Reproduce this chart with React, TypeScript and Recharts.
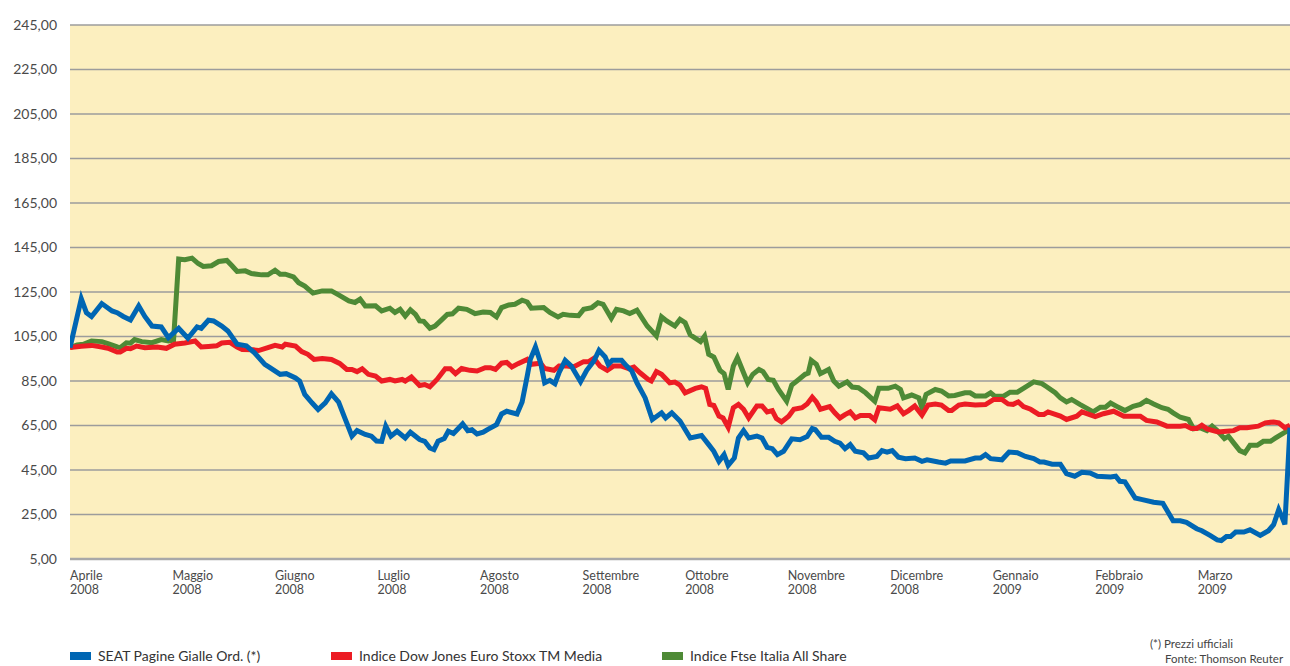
import React from "react";
import { LineChart, Line, XAxis, YAxis, CartesianGrid } from "recharts";

// x = months since 1 April 2008, value = index (base 100)
const MONTH_LABELS = [
  ["Aprile", "2008"],
  ["Maggio", "2008"],
  ["Giugno", "2008"],
  ["Luglio", "2008"],
  ["Agosto", "2008"],
  ["Settembre", "2008"],
  ["Ottobre", "2008"],
  ["Novembre", "2008"],
  ["Dicembre", "2008"],
  ["Gennaio", "2009"],
  ["Febbraio", "2009"],
  ["Marzo", "2009"],
];
const Y_TICKS = [5, 25, 45, 65, 85, 105, 125, 145, 165, 185, 205, 225, 245];

const SEAT: [number, number][] = [
  [0, 100], [0.11, 122], [0.16, 115.7], [0.21, 114], [0.31, 119.8], [0.41, 116.5],
  [0.46, 115.7], [0.52, 114], [0.59, 112.4], [0.67, 118.7], [0.73, 114], [0.8, 109.7],
  [0.89, 109.3], [0.96, 104.5], [1.06, 108.7], [1.15, 104.2], [1.24, 109.3], [1.28, 108.7],
  [1.35, 112.3], [1.4, 112], [1.48, 109.7], [1.54, 107.5], [1.63, 101.5], [1.72, 100.8],
  [1.8, 97.7], [1.9, 92.5], [1.95, 91], [2.05, 88], [2.11, 88.3], [2.2, 86.4], [2.24, 85],
  [2.29, 79], [2.36, 75.2], [2.42, 72.2], [2.49, 75.2], [2.55, 79.2], [2.62, 75.5],
  [2.68, 68.4], [2.75, 60.2], [2.8, 62.7], [2.88, 61], [2.94, 60.2], [2.99, 58], [3.04, 57.9],
  [3.08, 64.7], [3.13, 60.2], [3.19, 62.4], [3.27, 59.4], [3.32, 62], [3.41, 58.7],
  [3.46, 57.9], [3.51, 54.9], [3.55, 54.2], [3.59, 57.9], [3.65, 59.1], [3.69, 62.4],
  [3.74, 61.4], [3.83, 65.7], [3.88, 62.7], [3.92, 63.1], [3.97, 61.2], [4.03, 62],
  [4.08, 63.4], [4.16, 65.4], [4.21, 70.2], [4.26, 71.4], [4.36, 70.2], [4.41, 75.6],
  [4.46, 87.2], [4.49, 94.7], [4.54, 100.3], [4.59, 93.2], [4.63, 84.2], [4.68, 85.3],
  [4.73, 83.8], [4.77, 88.7], [4.83, 94.3], [4.89, 91.7], [4.98, 84.7], [5.04, 89.8],
  [5.11, 94], [5.16, 98.8], [5.22, 95.8], [5.25, 92.5], [5.29, 94.3], [5.38, 94.3],
  [5.43, 91.7], [5.48, 89.5], [5.53, 84.2], [5.61, 77.4], [5.68, 67.7], [5.77, 70.7],
  [5.81, 68.4], [5.87, 70.7], [5.95, 67], [6.05, 59.4], [6.16, 60.5], [6.23, 56.4],
  [6.28, 53.4], [6.33, 48.9], [6.38, 51.9], [6.42, 47.1], [6.48, 50.4], [6.52, 59.4],
  [6.57, 62.7], [6.62, 59.4], [6.7, 60.2], [6.75, 59.4], [6.8, 55.2], [6.85, 54.6],
  [6.9, 51.9], [6.96, 53.4], [7.04, 59], [7.12, 58.6], [7.19, 60], [7.24, 63.6], [7.27, 63.1],
  [7.33, 59.7], [7.4, 59.7], [7.46, 57.9], [7.51, 57.1], [7.56, 54.6], [7.61, 56.4],
  [7.66, 53.4], [7.74, 52.7], [7.79, 50.4], [7.87, 51.1], [7.92, 53.7], [7.97, 53],
  [8.02, 53.7], [8.08, 50.8], [8.15, 50.1], [8.24, 50.4], [8.31, 48.9], [8.36, 49.6],
  [8.47, 48.6], [8.54, 48.1], [8.59, 49.1], [8.73, 49.1], [8.83, 50.4], [8.88, 50.4],
  [8.93, 51.9], [8.98, 50.1], [9.09, 49.6], [9.16, 53.1], [9.24, 52.8], [9.32, 51.1],
  [9.4, 50.1], [9.46, 48.6], [9.5, 48.6], [9.58, 47.6], [9.66, 47.6], [9.72, 43.4],
  [9.8, 42.2], [9.87, 44], [9.95, 43.7], [10.02, 42.2], [10.15, 41.9], [10.2, 42.2],
  [10.24, 39.9], [10.29, 39.7], [10.39, 32.4], [10.46, 31.7], [10.57, 30.5], [10.66, 30],
  [10.76, 22.2], [10.83, 22.2], [10.89, 21.5], [10.99, 18.6], [11.04, 17.7], [11.12, 15.6],
  [11.19, 13.6], [11.23, 13.3], [11.28, 15.1], [11.32, 15.1], [11.37, 17.1], [11.45, 17.1],
  [11.51, 18.1], [11.61, 15.6], [11.69, 17.7], [11.74, 20.4], [11.79, 27.2], [11.82, 24.1],
  [11.85, 20.6], [11.9, 64],
];

const DJ_MEDIA: [number, number][] = [
  [0, 100], [0.11, 100.6], [0.21, 101], [0.31, 100.3], [0.37, 99.7], [0.46, 98], [0.49, 98],
  [0.55, 99.7], [0.59, 99.5], [0.65, 100.7], [0.73, 100], [0.85, 100.3], [0.94, 99.7],
  [1.02, 101.5], [1.12, 102.1], [1.22, 103], [1.28, 100.3], [1.35, 100.5], [1.43, 100.8],
  [1.48, 102.1], [1.56, 102.4], [1.63, 100.3], [1.68, 99.2], [1.79, 99], [1.84, 98.7],
  [1.93, 100], [2.0, 101], [2.07, 100.3], [2.1, 101.5], [2.2, 100.7], [2.26, 98.2], [2.32, 97],
  [2.38, 94.7], [2.46, 95.1], [2.55, 94.7], [2.63, 92.9], [2.7, 90.2], [2.75, 90.2],
  [2.8, 89.2], [2.85, 90.5], [2.91, 88], [2.98, 87.2], [3.04, 85], [3.12, 85.7], [3.17, 85],
  [3.24, 85.7], [3.27, 85], [3.33, 86.8], [3.41, 83], [3.46, 83.4], [3.51, 82.4], [3.58, 85.7],
  [3.66, 90.5], [3.71, 90.5], [3.76, 88.3], [3.82, 90.6], [3.9, 89.8], [3.97, 89.5],
  [4.05, 91], [4.1, 91], [4.15, 90.2], [4.21, 93], [4.26, 93.4], [4.31, 91.3], [4.37, 92.8],
  [4.46, 94.7], [4.5, 92.5], [4.59, 93], [4.63, 90.6], [4.72, 89.8], [4.77, 91.7],
  [4.85, 91.7], [4.91, 91.3], [5.01, 93.7], [5.06, 93.7], [5.11, 95.2], [5.17, 91.7],
  [5.24, 89.8], [5.3, 91.7], [5.38, 91.7], [5.45, 90.6], [5.5, 91.3], [5.56, 88.7],
  [5.64, 85.7], [5.67, 85], [5.72, 89.2], [5.77, 88], [5.85, 84.2], [5.9, 84.5], [5.95, 83.2],
  [6.0, 79.7], [6.1, 81.7], [6.16, 82.4], [6.2, 81.7], [6.24, 74.5], [6.28, 74], [6.33, 69.2],
  [6.37, 68.4], [6.42, 64.2], [6.47, 73], [6.52, 74.5], [6.57, 72.3], [6.62, 68.4],
  [6.7, 73.8], [6.75, 73.8], [6.8, 71.1], [6.85, 71.7], [6.89, 68.1], [6.94, 66.6],
  [7.01, 69.2], [7.06, 72.3], [7.14, 73], [7.19, 74.7], [7.24, 77.7], [7.28, 75.6],
  [7.32, 72.3], [7.41, 73.5], [7.46, 70.7], [7.51, 68.4], [7.56, 69.9], [7.61, 71.1],
  [7.66, 68.4], [7.71, 69.5], [7.8, 69.5], [7.85, 67.6], [7.89, 73], [8.0, 72.3], [8.07, 73.8],
  [8.13, 70.3], [8.18, 71.7], [8.24, 73.8], [8.31, 69.7], [8.37, 74.2], [8.44, 74.7],
  [8.5, 74.2], [8.57, 71.7], [8.6, 71.7], [8.67, 74.2], [8.73, 74.7], [8.83, 74.2],
  [8.93, 74.4], [9.01, 76.7], [9.09, 76.7], [9.15, 74.7], [9.2, 74.5], [9.25, 75.6],
  [9.3, 73.5], [9.37, 72.3], [9.45, 70], [9.5, 70], [9.54, 71.1], [9.66, 69.2], [9.72, 67.7],
  [9.82, 69.2], [9.87, 71.1], [10.0, 69], [10.08, 70.3], [10.18, 71.4], [10.28, 69.2],
  [10.44, 69.2], [10.5, 67.3], [10.6, 66.6], [10.7, 64.7], [10.83, 64.7], [10.88, 65],
  [10.94, 63.6], [10.99, 63.6], [11.04, 65.1], [11.09, 63.5], [11.15, 62.7], [11.2, 62.1],
  [11.28, 62.4], [11.35, 62.7], [11.41, 64], [11.48, 64], [11.59, 64.7], [11.66, 66.2],
  [11.74, 66.6], [11.79, 66.2], [11.85, 64], [11.9, 65.1],
];

const FTSE_ITALIA: [number, number][] = [
  [0, 100], [0.07, 101.2], [0.13, 101.5], [0.21, 103], [0.31, 102.7], [0.37, 101.8],
  [0.46, 100.3], [0.49, 100], [0.55, 102.2], [0.59, 102], [0.63, 103.6], [0.7, 102.7],
  [0.8, 102.2], [0.89, 103.6], [0.96, 103], [1.01, 103.4], [1.06, 139.8], [1.12, 139.5],
  [1.19, 140.2], [1.25, 137.8], [1.3, 136.5], [1.38, 136.8], [1.45, 138.7], [1.53, 139.2],
  [1.58, 136.8], [1.63, 134.2], [1.71, 134.5], [1.77, 133.3], [1.87, 132.7], [1.93, 132.7],
  [2.0, 134.8], [2.05, 133], [2.1, 133], [2.18, 131.8], [2.23, 129.2], [2.29, 127.7],
  [2.37, 124.5], [2.46, 125.5], [2.55, 125.5], [2.62, 123.7], [2.72, 121], [2.78, 120.3],
  [2.83, 121.8], [2.88, 118.7], [2.98, 118.8], [3.04, 116.5], [3.12, 117.7], [3.17, 115.8],
  [3.22, 117.2], [3.27, 114.2], [3.32, 117], [3.37, 114.9], [3.41, 112], [3.45, 111.8],
  [3.51, 108.7], [3.56, 109.7], [3.63, 112.7], [3.68, 114.9], [3.73, 115.2], [3.79, 117.7],
  [3.87, 117.2], [3.95, 115.3], [4.03, 116], [4.1, 115.8], [4.16, 113.8], [4.21, 118],
  [4.28, 119.2], [4.34, 119.5], [4.41, 121.3], [4.46, 120.5], [4.5, 117.7], [4.62, 118],
  [4.68, 115.8], [4.76, 113.8], [4.81, 115], [4.88, 114.5], [4.96, 114.3], [5.01, 117.2],
  [5.09, 118], [5.15, 120.2], [5.2, 119.5], [5.28, 113.2], [5.33, 117.2], [5.4, 116.5],
  [5.46, 115.3], [5.53, 116.8], [5.63, 109.7], [5.72, 105.2], [5.77, 113.8], [5.82, 112],
  [5.9, 109.7], [5.95, 112.7], [6.0, 111.2], [6.05, 105.7], [6.15, 102.7], [6.19, 105.2],
  [6.23, 97], [6.28, 95.8], [6.34, 89.8], [6.38, 88.3], [6.42, 81.2], [6.47, 91.7],
  [6.51, 95.5], [6.57, 88.7], [6.61, 84.2], [6.66, 88], [6.72, 90.2], [6.76, 89.2],
  [6.81, 85.7], [6.86, 85.3], [6.91, 81.2], [6.99, 75.9], [7.04, 83.2], [7.09, 85], [7.17, 88],
  [7.2, 88.5], [7.23, 94.3], [7.28, 92.5], [7.32, 88.3], [7.4, 90.2], [7.45, 85], [7.5, 82.7],
  [7.58, 84.6], [7.63, 82.3], [7.69, 82], [7.76, 79.7], [7.85, 75.9], [7.89, 81.7],
  [7.98, 81.7], [8.05, 82.7], [8.1, 81.2], [8.13, 77.4], [8.21, 78.7], [8.28, 77.4], [8.31, 73],
  [8.35, 79], [8.44, 81.2], [8.5, 80.5], [8.57, 78.3], [8.63, 78.5], [8.73, 79.7], [8.78, 79.7],
  [8.83, 78.3], [8.93, 78.3], [8.98, 79.7], [9.02, 78.2], [9.11, 78.3], [9.17, 80], [9.24, 80],
  [9.3, 81.7], [9.4, 84.6], [9.48, 83.8], [9.53, 82.3], [9.61, 79.7], [9.66, 77.4],
  [9.72, 75.6], [9.77, 76.7], [9.85, 74.5], [9.92, 72.7], [9.98, 71.1], [10.05, 73.2],
  [10.1, 73.2], [10.15, 75.1], [10.21, 73.6], [10.29, 71.7], [10.37, 73.6], [10.44, 74.5],
  [10.5, 76.3], [10.57, 74.7], [10.65, 73], [10.71, 72.3], [10.76, 70.7], [10.83, 68.7],
  [10.91, 67.7], [10.96, 63.5], [11.02, 64], [11.09, 62.7], [11.14, 64.7], [11.19, 62.7],
  [11.26, 59.1], [11.3, 60.2], [11.35, 57.2], [11.41, 53.7], [11.46, 52.7], [11.51, 56.1],
  [11.58, 56.1], [11.64, 57.9], [11.71, 57.9], [11.76, 59.4], [11.84, 61.7], [11.9, 63.1],
];

const SERIES = [
  { name: "Indice Ftse Italia All Share", color: "#4E8A36", points: FTSE_ITALIA },
  { name: "Indice Dow Jones Euro Stoxx TM Media", color: "#EC1C24", points: DJ_MEDIA },
  { name: "SEAT Pagine Gialle Ord. (*)", color: "#0066B3", points: SEAT },
];
const LEGEND_ORDER = [
  { name: "SEAT Pagine Gialle Ord. (*)", color: "#0066B3", left: 70 },
  { name: "Indice Dow Jones Euro Stoxx TM Media", color: "#EC1C24", left: 331 },
  { name: "Indice Ftse Italia All Share", color: "#4E8A36", left: 662 },
];

const FONT = "Lato, 'Open Sans', sans-serif";
const TEXT = "#4a4a4a";

const fmt = (v: number) => v.toFixed(2).replace(".", ",");

function MonthTick(props: any) {
  const { x, y, payload } = props;
  const label = MONTH_LABELS[payload.value];
  if (!label) return null;
  return (
    <text x={x} y={y} textAnchor="start" fill={TEXT} fontSize={12.5} fontFamily={FONT}>
      <tspan x={x} dy={10}>{label[0]}</tspan>
      <tspan x={x} dy={13.5}>{label[1]}</tspan>
    </text>
  );
}

export default function App() {
  return (
    <div style={{ position: "absolute", left: 0, top: 0, width: 1290, height: 666, background: "#fff", fontFamily: FONT }}>
      <LineChart width={1290} height={666} margin={{ top: 25, right: 0, left: 0, bottom: 67 }}>
        <CartesianGrid horizontal vertical={false} fill="#FCEFBF" stroke="#9c9c9c" strokeWidth={1.5} />
        <XAxis
          type="number"
          dataKey="m"
          domain={[0, 11.9]}
          ticks={MONTH_LABELS.map((_, i) => i)}
          allowDataOverflow
          height={40}
          tickLine={false}
          tickSize={0}
          tickMargin={11}
          axisLine={{ stroke: "#a8a8a8", strokeWidth: 2.5 }}
          tick={<MonthTick />}
          interval={0}
        />
        <YAxis
          type="number"
          domain={[5, 245]}
          ticks={Y_TICKS}
          width={70}
          axisLine={false}
          tickLine={false}
          tickSize={0}
          tickMargin={13}
          tickFormatter={fmt}
          tick={{ fill: TEXT, fontSize: 14, fontFamily: FONT }}
          interval={0}
        />
        {SERIES.map((s) => (
          <Line
            key={s.name}
            data={s.points.map(([m, v]) => ({ m, v }))}
            dataKey="v"
            type="linear"
            stroke={s.color}
            strokeWidth={5}
            dot={false}
            activeDot={false}
            isAnimationActive={false}
          />
        ))}
      </LineChart>
      {LEGEND_ORDER.map((l) => (
        <div key={l.name} style={{ position: "absolute", left: l.left, top: 647, display: "flex", alignItems: "center", fontSize: 14, color: "#333", whiteSpace: "nowrap" }}>
          <span style={{ display: "inline-block", width: 21, height: 8, background: l.color, marginRight: 7 }} />
          <span>{l.name}</span>
        </div>
      ))}
      <div style={{ position: "absolute", left: 1150, top: 636, fontSize: 11.5, color: "#444", lineHeight: "15px", whiteSpace: "nowrap" }}>
        <div>(*) Prezzi ufficiali</div>
        <div style={{ paddingLeft: 15 }}>Fonte: Thomson Reuter</div>
      </div>
    </div>
  );
}
